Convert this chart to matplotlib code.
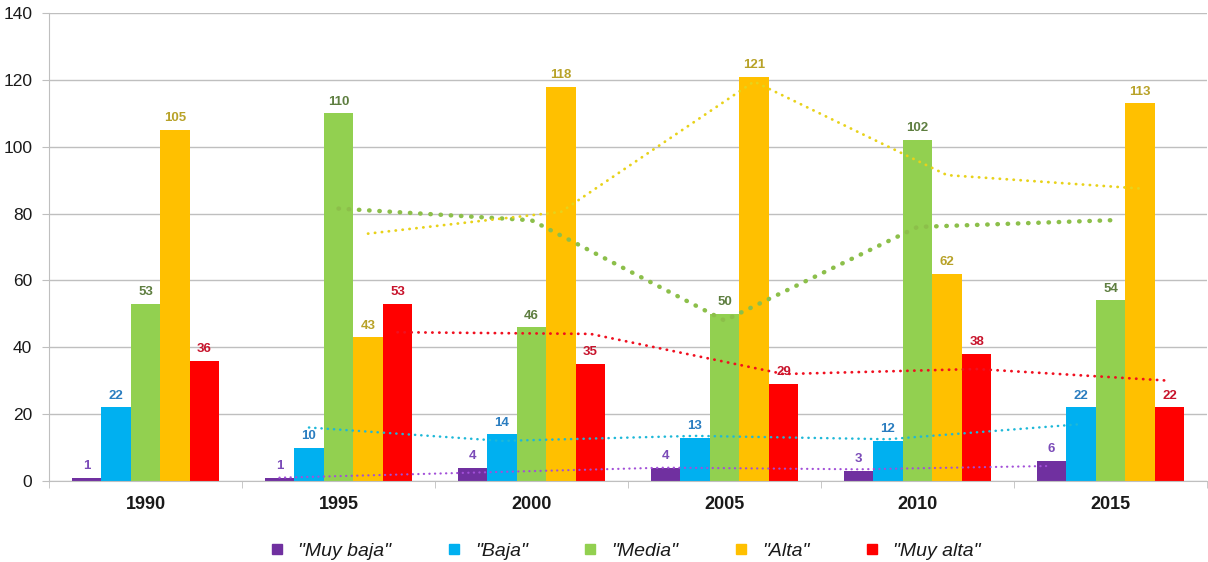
import numpy as np
import matplotlib
matplotlib.use("Agg")
import matplotlib.pyplot as plt
from matplotlib.lines import Line2D

plt.rcParams['font.family'] = ['Liberation Sans', 'DejaVu Sans']

years = ['1990', '1995', '2000', '2005', '2010', '2015']
series_names = ['"Muy baja"', '"Baja"', '"Media"', '"Alta"', '"Muy alta"']
muy_baja = [1, 1, 4, 4, 3, 6]
baja = [22, 10, 14, 13, 12, 22]
media = [53, 110, 46, 50, 102, 54]
alta = [105, 43, 118, 121, 62, 113]
muy_alta = [36, 53, 35, 29, 38, 22]

bar_colors = ['#7030A0', '#00B0F0', '#92D050', '#FFC000', '#FF0000']
label_colors = ['#7B4BB8', '#2A7DC0', '#5E7E40', '#B8A228', '#C8142C']
trend_colors = ['#A24FD8', '#1EB8D8', '#8CBF4A', '#E8D21A', '#F01020']
trend_widths = [1.6, 1.8, 3.2, 2.0, 2.0]

values = [muy_baja, baja, media, alta, muy_alta]

fig = plt.figure(figsize=(12.08, 5.62), dpi=100)
ax = fig.add_axes([49 / 1208, 1 - 481 / 562, 1158 / 1208, 468 / 562])

x = np.arange(len(years))
w = 0.153

for j, vals in enumerate(values):
    pos = x + (j - 2) * w
    ax.bar(pos, vals, width=w, color=bar_colors[j], zorder=2)
    for p, v in zip(pos, vals):
        ax.text(p, v + 1.7, str(v), ha='center', va='bottom', fontsize=9.5,
                fontweight='bold', color=label_colors[j], zorder=5)

# two-period moving average for each category
for j, vals in enumerate(values):
    pos = x + (j - 2) * w
    v = np.array(vals, dtype=float)
    ma = (v[1:] + v[:-1]) / 2
    ax.plot(pos[1:], ma, color=trend_colors[j], lw=trend_widths[j],
            linestyle=(0, (0.1, 2.2)) if j == 2 else (0, (0.1, 2.4)),
            dash_capstyle='round', zorder=4)

ax.set_xlim(-0.5, 5.5)
ax.set_ylim(0, 140)
ax.set_yticks(range(0, 141, 20))
ax.yaxis.grid(True, color='#BFBFBF', lw=1, zorder=0)
ax.set_axisbelow(True)

ax.set_xticks(x)
ax.set_xticklabels(years, fontsize=13, fontweight='bold', color='#1A1A1A')
ax.tick_params(axis='x', length=0, pad=11)
ax.set_xticks(np.arange(-0.5, 5.6, 1), minor=True)
ax.tick_params(axis='x', which='minor', length=5, color='#BFBFBF', direction='out')
ax.tick_params(axis='y', length=5, color='#BFBFBF', labelsize=12.5,
               labelcolor='#1A1A1A', pad=7)

for side in ['top', 'right']:
    ax.spines[side].set_visible(False)
ax.spines['left'].set_color('#BFBFBF')
ax.spines['bottom'].set_color('#BFBFBF')

handles = [Line2D([], [], marker='s', linestyle='none', markersize=6.5,
                  markerfacecolor=c, markeredgecolor=c) for c in bar_colors]
fig.legend(handles, series_names, loc='center', bbox_to_anchor=(619 / 1208, 1 - 551 / 562),
           ncol=5, frameon=False, handletextpad=0.1, columnspacing=2.2,
           prop={'style': 'italic', 'size': 14}, labelcolor='#1A1A1A')

fig.savefig('out.png', dpi=100)
